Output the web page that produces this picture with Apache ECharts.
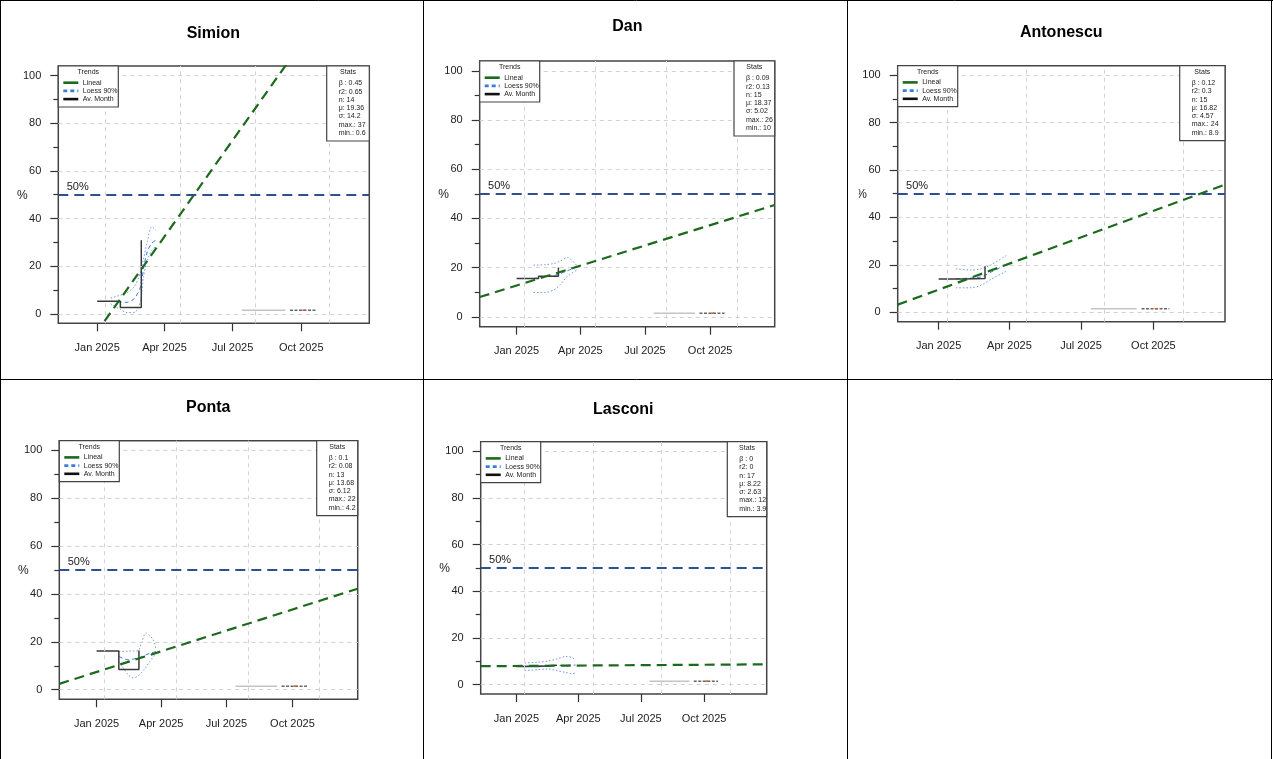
<!DOCTYPE html>
<html><head><meta charset="utf-8">
<script src="https://cdn.jsdelivr.net/npm/echarts@6/dist/echarts.min.js"></script>
<style>html,body{margin:0;padding:0;background:#fff}#c{width:1273px;height:759px}</style>
</head><body><div id="c"></div>
<script>
// ---------------- DATA ----------------
const candidates = ['Simion', 'Dan', 'Antonescu', 'Ponta', 'Lasconi'];
const xRange = ['2024-11-10', '2025-12-31'];
const xTickDates = ['2025-01-01', '2025-04-01', '2025-07-01', '2025-10-01'];
const xTickLabels = ['Jan 2025', 'Apr 2025', 'Jul 2025', 'Oct 2025'];
const xGridDates = ['2025-01-12', '2025-04-22', '2025-07-31', '2025-11-08'];
const yRange = [-4, 104];
const yTickValues = [0, 20, 40, 60, 80, 100];
const yMinorTickValues = [10, 30, 50, 70, 90];
const threshold = 50;
const thresholdLabel = '50%';
const yAxisTitle = '%';
const legendTitle = 'Trends';
const legendItems = ['Lineal', 'Loess 90%', 'Av. Month'];
const statsTitle = 'Stats';

// monthly averages (step line)
const monthDates = ['2025-01-01', '2025-02-01', '2025-03-01'];
const avgSimion = [5.3, 2.6, 30.9];
const avgDan = [15.6, 16.5, 20.1];
const avgAntonescu = [14.0, 14.2, 19.4];
const avgPonta = [16.2, 8.4, 16.4];
const avgLasconi = [7.8, 8.3, 8.6];

// linear trend, values at xRange ends
const linSimion = [-30.5, 153.8];
const linDan = [8.05, 45.45];
const linAntonescu = [3.2, 53.85];
const linPonta = [2.45, 42.2];
const linLasconi = [7.9, 8.7];

// loess fit with 90% band
const loessDatesSimion = ['2025-01-19', '2025-02-01', '2025-02-10', '2025-02-20', '2025-02-28', '2025-03-04', '2025-03-09', '2025-03-15', '2025-03-21'];
const loessMidSimion = [5.2, 4.9, 4.8, 6.5, 11.4, 19, 26, 29.6, 31];
const loessUpSimion = [6.6, 7.8, 8.8, 11.5, 17.5, 23, 30.2, 36.5, 35];
const loessLowSimion = [4.2, 1.8, 0.5, 0.6, 5.5, 15.5, 22.5, 26.5, 28.5];

const loessDatesDan = ['2025-01-25', '2025-02-10', '2025-02-23', '2025-03-03', '2025-03-14', '2025-03-27'];
const loessMidDan = [15.6, 16.2, 16.8, 17.5, 18.8, 20.3];
const loessUpDan = [21, 21.2, 21.7, 22.6, 24.1, 20.8];
const loessLowDan = [9.9, 9.9, 11.0, 12.9, 16.5, 19];

const loessDatesAntonescu = ['2025-01-23', '2025-02-10', '2025-02-24', '2025-03-09', '2025-03-28'];
const loessMidAntonescu = [14.1, 14.4, 14.9, 17.0, 20.1];
const loessUpAntonescu = [18.3, 17.8, 18.3, 20.1, 23.9];
const loessLowAntonescu = [10.3, 10.3, 11.4, 14.0, 17.3];

const loessDatesPonta = ['2025-02-01', '2025-02-14', '2025-02-21', '2025-02-28', '2025-03-04', '2025-03-11', '2025-03-16', '2025-03-21', '2025-03-25'];
const loessMidPonta = [13.9, 12.5, 12.8, 13.2, 13.7, 14.6, 15.2, 15.6, 16.0];
const loessUpPonta = [16.0, 16.1, 16.2, 16.3, 19, 23.7, 22.5, 20.9, 16.7];
const loessLowPonta = [11.8, 6.3, 4.9, 5.8, 7.0, 9.5, 11.8, 13.8, 15.3];

const loessDatesLasconi = ['2025-01-13', '2025-02-01', '2025-02-16', '2025-03-01', '2025-03-14', '2025-03-23', '2025-03-28'];
const loessMidLasconi = [7.9, 8.0, 8.1, 8.2, 8.3, 8.4, 8.4];
const loessUpLasconi = [9.3, 9.6, 10.1, 11.0, 12.1, 11.6, 10.4];
const loessLowLasconi = [6.1, 6.4, 6.7, 6.0, 5.2, 4.7, 5.0];

// stats
const statBeta = [0.45, 0.09, 0.12, 0.1, 0];
const statR2 = [0.65, 0.13, 0.3, 0.08, 0];
const statN = [14, 15, 15, 13, 17];
const statMu = [19.36, 18.37, 16.82, 13.68, 8.22];
const statSigma = [14.2, 5.02, 4.57, 6.12, 2.63];
const statMax = [37, 26, 24, 22, 12];
const statMin = [0.6, 10, 8.9, 4.2, 3.9];

// ---------------- BUILD ----------------
const T = s => Date.parse(s);
const avgAll = [avgSimion, avgDan, avgAntonescu, avgPonta, avgLasconi];
const linAll = [linSimion, linDan, linAntonescu, linPonta, linLasconi];
const loessDatesAll = [loessDatesSimion, loessDatesDan, loessDatesAntonescu, loessDatesPonta, loessDatesLasconi];
const loessMidAll = [loessMidSimion, loessMidDan, loessMidAntonescu, loessMidPonta, loessMidLasconi];
const loessUpAll = [loessUpSimion, loessUpDan, loessUpAntonescu, loessUpPonta, loessUpLasconi];
const loessLowAll = [loessLowSimion, loessLowDan, loessLowAntonescu, loessLowPonta, loessLowLasconi];

const layout = [
  {L: 58.3, T: 66, R: 369.3, B: 323.3, tx: 213.3, ty: 33.3, sw: 42.6},
  {L: 479.7, T: 61, R: 774.7, B: 326.7, tx: 627.3, ty: 26.7, sw: 40.7},
  {L: 897.7, T: 65.7, R: 1225, B: 321.7, tx: 1061.3, ty: 32.7, sw: 45.3},
  {L: 59.3, T: 440.7, R: 357.7, B: 699.3, tx: 208.3, ty: 407.7, sw: 41},
  {L: 480.7, T: 441.7, R: 766.7, B: 694, tx: 623.3, ty: 410, sw: 39.4}
];

const FONT = "'Liberation Sans', Arial, Helvetica, sans-serif";
const GREEN = '#1c6a1c', BLUE50 = '#2f4f8f', LOESS = '#3b78dc', LOESSBAND = '#6c9ce8', AVG = '#3a3a3a';
const xTickTimes = xTickDates.map(T);
const xGridTimes = xGridDates.map(T);

const grids = [], xAxes = [], yAxes = [], series = [], graphics = [];

function txt(x, y, text, size, opts) {
  opts = opts || {};
  const align = opts.align || 'left';
  const va = opts.va || 'middle';
  return {type: 'text', x: x, y: y, z: opts.z || 120, silent: true,
    style: {text: text, fill: opts.color || '#222', font: (opts.weight || 'normal') + ' ' + size + 'px ' + FONT,
      align: align, verticalAlign: va, textAlign: align, textVerticalAlign: va}};
}
function seg(x1, y1, x2, y2, color, w, dash, z) {
  return {type: 'line', z: z || 120, silent: true, shape: {x1: x1, y1: y1, x2: x2, y2: y2},
    style: {stroke: color, lineWidth: w, lineDash: dash || null}};
}

candidates.forEach((name, i) => {
  const g = layout[i];
  const W = g.R - g.L, H = g.B - g.T;
  const yPix = v => g.T + (yRange[1] - v) / (yRange[1] - yRange[0]) * H;

  grids.push({left: g.L, top: g.T, width: W, height: H, show: true, borderColor: '#444', borderWidth: 1.5, backgroundColor: 'transparent'});
  xAxes.push({type: 'value', gridIndex: i, min: T(xRange[0]), max: T(xRange[1]),
    axisLine: {show: false, onZero: false},
    axisTick: {show: true, length: 8, customValues: xTickTimes, lineStyle: {color: '#333', width: 1.2}},
    axisLabel: {customValues: xTickTimes, margin: 19, fontSize: 11, color: '#222', fontFamily: FONT,
      formatter: v => { const k = xTickTimes.indexOf(v); return k >= 0 ? xTickLabels[k] : ''; }},
    splitLine: {show: false}});
  yAxes.push({type: 'value', gridIndex: i, position: 'left', min: yRange[0], max: yRange[1],
    axisLine: {show: false, onZero: false},
    axisTick: {show: true, length: 8, customValues: yTickValues, lineStyle: {color: '#333', width: 1.2}},
    axisLabel: {customValues: yTickValues, margin: 17, fontSize: 11, color: '#222', fontFamily: FONT},
    splitLine: {show: false}});
  yAxes.push({type: 'value', gridIndex: i, position: 'left', min: yRange[0], max: yRange[1],
    axisLine: {show: false, onZero: false},
    axisTick: {show: true, length: 5, customValues: yMinorTickValues, lineStyle: {color: '#333', width: 1.2}},
    axisLabel: {show: false},
    splitLine: {show: false}});

  const xi = i, yi = 2 * i;
  // grid lines
  series.push({type: 'line', xAxisIndex: xi, yAxisIndex: yi, data: [], silent: true, z: 1,
    markLine: {silent: true, symbol: 'none', animation: false, label: {show: false},
      emphasis: {disabled: true},
      lineStyle: {color: '#d2d2d2', type: [4, 4], width: 1},
      data: yTickValues.map(v => ({yAxis: v})).concat(xGridTimes.map(v => ({xAxis: v})))}});
  // threshold
  series.push({type: 'line', xAxisIndex: xi, yAxisIndex: yi, data: [], silent: true, z: 2,
    markLine: {silent: true, symbol: 'none', animation: false, label: {show: false},
      emphasis: {disabled: true},
      lineStyle: {color: BLUE50, type: [10, 6], width: 2},
      data: [{yAxis: threshold}]}});
  // loess band + center
  const ld = loessDatesAll[i].map(T);
  series.push({type: 'line', xAxisIndex: xi, yAxisIndex: yi, z: 3, symbol: 'none', smooth: 0.3, silent: true,
    data: ld.map((t, j) => [t, loessUpAll[i][j]]), lineStyle: {color: LOESSBAND, width: 1, type: [1.5, 2]}});
  series.push({type: 'line', xAxisIndex: xi, yAxisIndex: yi, z: 3, symbol: 'none', smooth: 0.3, silent: true,
    data: ld.map((t, j) => [t, loessLowAll[i][j]]), lineStyle: {color: LOESSBAND, width: 1, type: [1.5, 2]}});
  series.push({type: 'line', xAxisIndex: xi, yAxisIndex: yi, z: 3, symbol: 'none', smooth: 0.3, silent: true,
    data: ld.map((t, j) => [t, loessMidAll[i][j]]), lineStyle: {color: LOESS, width: 1, type: [4, 3]}});
  // monthly average
  series.push({type: 'line', xAxisIndex: xi, yAxisIndex: yi, z: 4, symbol: 'none', step: 'end', silent: true,
    data: monthDates.map((d, j) => [T(d), avgAll[i][j]]), lineStyle: {color: AVG, width: 1.5}});
  // linear trend
  series.push({type: 'line', xAxisIndex: xi, yAxisIndex: yi, z: 5, symbol: 'none', clip: true, silent: true,
    data: xRange.map((d, j) => [T(d), linAll[i][j]]), lineStyle: {color: GREEN, width: 2.2, type: [10, 6]}});

  // title and texts
  graphics.push(txt(g.tx, g.ty, name, 16, {align: 'center', weight: 'bold', color: '#000'}));
  graphics.push(txt(g.L - 36, yPix(threshold) + 1, yAxisTitle, 12, {align: 'center', color: '#222'}));
  graphics.push(txt(g.L + 8.4, yPix(threshold) - 8, thresholdLabel, 11, {color: '#222'}));

  // legend box
  const lw = 60, lh = 41;
  graphics.push({type: 'rect', z: 110, silent: true, shape: {x: g.L, y: g.T, width: lw, height: lh},
    style: {fill: '#fff', stroke: '#444', lineWidth: 1.2}});
  graphics.push(txt(g.L + lw / 2, g.T + 6.3, legendTitle, 7, {align: 'center'}));
  const lcol = [GREEN, '#3b7ddd', '#111'];
  const ldash = [null, [4, 3], null];
  legendItems.forEach((it, k) => {
    const yy = g.T + 16.7 + k * 8.2;
    graphics.push(seg(g.L + 5, yy, g.L + 20, yy, lcol[k], 2.6, ldash[k]));
    graphics.push(txt(g.L + 24.5, yy, it, 7));
  });

  // stats box
  const sx = g.R - g.sw, sh = 75;
  graphics.push({type: 'rect', z: 110, silent: true, shape: {x: sx, y: g.T, width: g.sw, height: sh},
    style: {fill: '#fff', stroke: '#444', lineWidth: 1.2}});
  graphics.push(txt(sx + g.sw / 2, g.T + 6.3, statsTitle, 7, {align: 'center'}));
  const lines = ['β : ' + statBeta[i], 'r2: ' + statR2[i], 'n: ' + statN[i], 'μ: ' + statMu[i],
    'σ: ' + statSigma[i], 'max.: ' + statMax[i], 'min.: ' + statMin[i]];
  lines.forEach((s, k) => graphics.push(txt(sx + 12, g.T + 17.3 + k * 8.3, s, 7)));

  // small watermark logo
  const wy = yPix(1.5);
  graphics.push(seg(g.L + 0.59 * W, wy, g.L + 0.73 * W, wy, '#c4c4c4', 1.5, null, 90));
  graphics.push(seg(g.L + 0.745 * W, wy, g.L + 0.83 * W, wy, '#666', 1.5, [3, 1.5], 90));
  graphics.push(seg(g.L + 0.785 * W, wy, g.L + 0.795 * W, wy, '#d0603a', 1.5, null, 91));
});

// emulate the clipped "%" of the 3rd panel
graphics.push({type: 'rect', z: 130, silent: true, shape: {x: 849, y: 184, width: 9.7, height: 22}, style: {fill: '#fff'}});

// cell borders
[0.5, 423.5, 847.5, 1271.5].forEach(x => graphics.push(seg(x, 0, x, 759, '#000', 1, null, 200)));
[0.5, 379.5].forEach(y => graphics.push(seg(0, y, 1273, y, '#000', 1, null, 200)));

const chart = echarts.init(document.getElementById('c'), null, {renderer: 'canvas'});
chart.setOption({
  animation: false,
  backgroundColor: '#fff',
  grid: grids, xAxis: xAxes, yAxis: yAxes, series: series,
  graphic: {elements: graphics}
});
</script></body></html>
